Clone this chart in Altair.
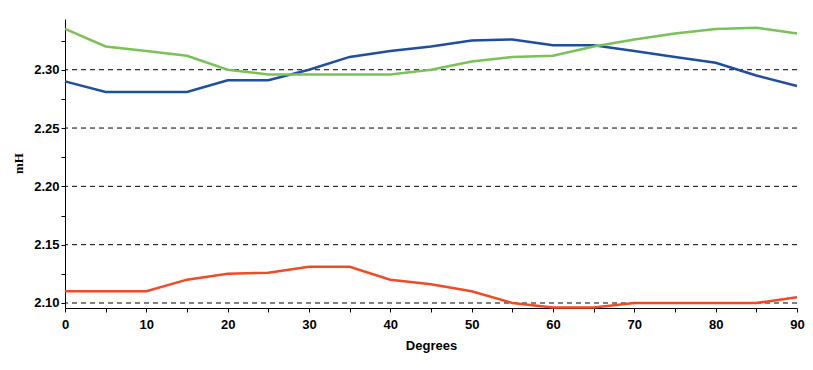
import altair as alt
import pandas as pd

# ---- data ----
degrees = [0, 5, 10, 15, 20, 25, 30, 35, 40, 45, 50, 55, 60, 65, 70, 75, 80, 85, 90]
blue_vals = [2.290, 2.281, 2.281, 2.281, 2.291, 2.291, 2.300, 2.311, 2.316, 2.320,
             2.325, 2.326, 2.321, 2.321, 2.316, 2.311, 2.306, 2.295, 2.286]
green_vals = [2.335, 2.320, 2.316, 2.312, 2.300, 2.296, 2.296, 2.296, 2.296, 2.300,
              2.307, 2.311, 2.312, 2.320, 2.326, 2.331, 2.335, 2.336, 2.331]
red_vals = [2.110, 2.110, 2.110, 2.120, 2.125, 2.126, 2.131, 2.131, 2.120, 2.116,
            2.110, 2.100, 2.0962, 2.0962, 2.100, 2.100, 2.100, 2.100, 2.105]
series_names = ["Blue", "Green", "Red"]
series_colors = ["#1f4e9e", "#78c257", "#f04b24"]
grid_values = [2.10, 2.15, 2.20, 2.25, 2.30]
y_tick_values = [2.10, 2.125, 2.15, 2.175, 2.20, 2.225, 2.25, 2.275, 2.30, 2.325]
x_tick_values = [0, 5, 10, 15, 20, 25, 30, 35, 40, 45, 50, 55, 60, 65, 70, 75, 80, 85, 90]
y_domain = [2.0957, 2.3435]
x_domain = [0, 90]

rows = []
for name, vals in zip(series_names, [blue_vals, green_vals, red_vals]):
    for d, v in zip(degrees, vals):
        rows.append({"Degrees": d, "mH": v, "series": name})
df = pd.DataFrame(rows)

yscale = alt.Scale(domain=y_domain, nice=False, zero=False)
xscale = alt.Scale(domain=x_domain, nice=False)

y_axis = alt.Axis(
    values=y_tick_values,
    labelExpr="abs(round(datum.value * 1000)) % 50 == 0 ? format(datum.value, '.2f') : ''",
    title="mH",
    grid=False,
    domainColor="black",
    tickColor="black",
    tickSize=4,
    labelPadding=2,
    labelFlush=False,
    labelFont="Liberation Sans",
    labelFontWeight="bold",
    labelFontSize=13,
    labelColor="black",
    titleFont="Liberation Serif",
    titleFontWeight="bold",
    titleFontSize=13,
    titleColor="black",
    titleAngle=-90,
    titleX=-47,
    titleY=144,
    titleAlign="center",
    titleBaseline="middle",
)

grid = alt.Chart(pd.DataFrame({"g": grid_values})).mark_rule(
    color="black", strokeWidth=1, strokeDash=[5, 4]
).encode(y=alt.Y("g:Q", scale=yscale, axis=y_axis, title="mH"))

lines = alt.Chart(df).mark_line(strokeWidth=2.5, interpolate="linear").encode(
    x=alt.X(
        "Degrees:Q",
        scale=xscale,
        axis=alt.Axis(
            values=x_tick_values,
            labelExpr="datum.value % 10 == 0 ? datum.label : ''",
            title="Degrees",
            grid=False,
            domainColor="black",
            tickColor="black",
            tickSize=4,
            labelPadding=6,
            labelFlush=False,
            labelFont="Liberation Sans",
            labelFontWeight="bold",
            labelFontSize=13,
            labelColor="black",
            titleFont="Liberation Sans",
            titleFontWeight="bold",
            titleFontSize=13,
            titleColor="black",
            titlePadding=8,
        ),
    ),
    y=alt.Y("mH:Q", scale=yscale, axis=y_axis, title="mH"),
    color=alt.Color(
        "series:N",
        scale=alt.Scale(domain=series_names, range=series_colors),
        legend=None,
    ),
)

chart = alt.layer(grid, lines).properties(
    width=732,
    height=289,
    padding={"left": 57, "top": 11, "right": 8, "bottom": 50},
    autosize=alt.AutoSizeParams(type="none"),
    background="white",
).configure_view(stroke=None)

chart.save("out.html", embed_options={"renderer": "svg", "actions": False})
